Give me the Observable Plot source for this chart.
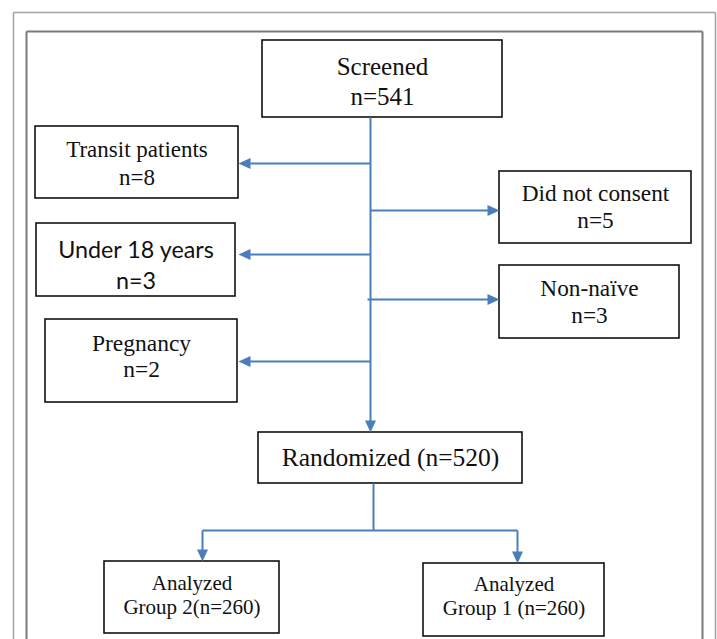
<!DOCTYPE html>
<html>
<head>
<meta charset="utf-8">
<script src="https://cdn.jsdelivr.net/npm/d3@7"></script>
<script src="https://cdn.jsdelivr.net/npm/@observablehq/plot@0.6"></script>
<style>
  html, body { margin: 0; padding: 0; background: #fff; }
  #chart svg { display: block; }
</style>
</head>
<body>
<div id="chart"></div>
<script>
// ---- Data ----
const stages = ["Screened", "Transit patients", "Under 18 years", "Pregnancy",
                "Did not consent", "Non-naïve", "Randomized", "Group 2", "Group 1"];
const counts = [541, 8, 3, 2, 5, 3, 520, 260, 260];

// ---- Layout (positions / styles) ----
const boxLayout = [
  {x1: 262, x2: 502, y1: 40,  y2: 117, lines: [66, 96],   size: 25, fmt: "stacked"},
  {x1: 35,  x2: 238, y1: 126, y2: 198, lines: [149, 177], size: 23, fmt: "stacked"},
  {x1: 36,  x2: 235, y1: 223, y2: 296, lines: [250, 281], size: 23.3, fmt: "stacked", sans: true},
  {x1: 45,  x2: 237, y1: 319, y2: 402, lines: [343, 369], size: 23.5, fmt: "stacked"},
  {x1: 499, x2: 691, y1: 171, y2: 243, lines: [193, 220], size: 23.3, fmt: "stacked"},
  {x1: 499, x2: 679, y1: 265, y2: 338, lines: [288, 315], size: 23.3, fmt: "stacked"},
  {x1: 258, x2: 522, y1: 432, y2: 483, lines: [457],      size: 25.5, fmt: "inline"},
  {x1: 104, x2: 279, y1: 561, y2: 633, lines: [583, 607], size: 21, fmt: "analyzedTight"},
  {x1: 423, x2: 604, y1: 563, y2: 636, lines: [584, 608], size: 21, fmt: "analyzed"}
];

function textLines(label, n, fmt) {
  if (fmt === "stacked") return [label, `n=${n}`];
  if (fmt === "inline") return [`${label} (n=${n})`];
  if (fmt === "analyzedTight") return ["Analyzed", `${label}(n=${n})`];
  return ["Analyzed", `${label} (n=${n})`];
}

const boxes = boxLayout.map((b, i) => ({...b, label: stages[i], n: counts[i]}));
const textRows = boxes.flatMap(b => {
  const ls = textLines(b.label, b.n, b.fmt);
  return ls.map((t, j) => ({x: (b.x1 + b.x2) / 2, y: b.lines[j], text: t, size: b.size, sans: !!b.sans}));
});

// connector segments and arrow heads
const segments = [
  [370, 117, 370, 426],
  [370, 163, 244, 163], [370, 254, 244, 254], [370, 361, 244, 361],
  [370, 210, 493, 210], [367, 299, 493, 299],
  [373, 483, 373, 530], [202, 530, 517, 530],
  [202, 530, 202, 555], [517, 530, 517, 557]
].map(([x1, y1, x2, y2]) => ({x1, y1, x2, y2}));

const heads = [
  {x: 370, y: 432, rot: 90},
  {x: 238, y: 163, rot: 180}, {x: 238, y: 254, rot: 180}, {x: 238, y: 361, rot: 180},
  {x: 499, y: 210, rot: 0}, {x: 499, y: 299, rot: 0},
  {x: 202, y: 561, rot: 90}, {x: 517, y: 563, rot: 90}
];

const H = 639, W = 717;
const frames = [
  {l: 13, r: 715, t: 12, c: "#a3a3a3", w: 1.5},
  {l: 26, r: 702, t: 31, c: "#7a7a7a", w: 2}
];
const frameSegs = frames.flatMap(f => [
  {x1: f.l, y1: f.t, x2: f.r, y2: f.t, c: f.c, w: f.w},
  {x1: f.l, y1: f.t, x2: f.l, y2: H, c: f.c, w: f.w},
  {x1: f.r, y1: f.t, x2: f.r, y2: H, c: f.c, w: f.w}
]);

const arrowHead = {
  draw(context) {
    context.moveTo(0, 0);
    context.lineTo(-12, -5.5);
    context.lineTo(-12, 5.5);
    context.closePath();
  }
};

const BLUE = "#4a7ebb";

const chart = Plot.plot({
  width: W,
  height: H,
  margin: 0,
  x: {domain: [0, W], range: [0, W], axis: null},
  y: {domain: [0, H], range: [0, H], axis: null},
  marks: [
    Plot.link(frameSegs.filter(d => d.w === 1.5), {x1: "x1", y1: "y1", x2: "x2", y2: "y2", stroke: d => d.c, strokeWidth: 1.5}),
    Plot.link(frameSegs.filter(d => d.w === 2), {x1: "x1", y1: "y1", x2: "x2", y2: "y2", stroke: d => d.c, strokeWidth: 2}),
    Plot.rect(boxes, {x1: "x1", x2: "x2", y1: "y1", y2: "y2", fill: "white", stroke: "#111", strokeWidth: 1.6}),
    Plot.link(segments, {x1: "x1", y1: "y1", x2: "x2", y2: "y2", stroke: BLUE, strokeWidth: 2}),
    Plot.dot(heads, {x: "x", y: "y", rotate: "rot", symbol: arrowHead, r: 5, fill: BLUE, stroke: "none"}),
    Plot.text(textRows.filter(d => !d.sans), {
      x: "x", y: "y", text: "text", fontSize: "size",
      fontFamily: "'Liberation Serif', 'Times New Roman', serif", fill: "#111", lineAnchor: "middle"
    }),
    Plot.text(textRows.filter(d => d.sans), {
      x: "x", y: "y", text: "text", fontSize: "size",
      fontFamily: "Lato, 'Liberation Sans', sans-serif", fill: "#111", lineAnchor: "middle"
    })
  ]
});
document.getElementById("chart").appendChild(chart);
</script>
</body>
</html>
